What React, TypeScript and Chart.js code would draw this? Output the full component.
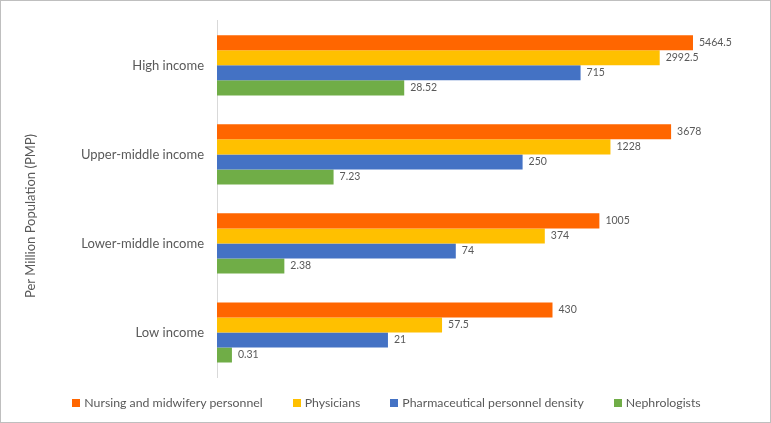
import React, { useEffect, useRef } from "react";
import { Chart, registerables, LinearScale } from "chart.js";

Chart.register(...registerables);

const categories = ["High income", "Upper-middle income", "Lower-middle income", "Low income"];
const seriesNames = [
  "Nursing and midwifery personnel",
  "Physicians",
  "Pharmaceutical personnel density",
  "Nephrologists",
];
const nursing = [5464.5, 3678, 1005, 430];
const physicians = [2992.5, 1228, 374, 57.5];
const pharmaceutical = [715, 250, 74, 21];
const nephrologists = [28.52, 7.23, 2.38, 0.31];
const colors = ["#FF6600", "#FFC000", "#4472C4", "#70AD47"];
const axisTitle = "Per Million Population (PMP)";

const f = (v: number) => Math.log10(1 + Math.max(0, v));

class Log1pScale extends LinearScale {
  static id = "log1p";
  static defaults = (LinearScale as any).defaults;
  getPixelForValue(value: number) {
    const a = f((this as any).min);
    const b = f((this as any).max);
    return this.getPixelForDecimal((f(value) - a) / (b - a));
  }
  getValueForPixel(pixel: number) {
    const a = f((this as any).min);
    const b = f((this as any).max);
    const d = this.getDecimalForPixel(pixel);
    return Math.pow(10, a + d * (b - a)) - 1;
  }
}
Chart.register(Log1pScale as any);

const TEXT = "#595959";
const FONT = "Lato, 'Open Sans', sans-serif";

const labelPlugin = {
  id: "valueLabels",
  afterDatasetsDraw(chart: any) {
    const ctx = chart.ctx;
    ctx.save();
    ctx.font = `10.5px ${FONT}`;
    ctx.fillStyle = TEXT;
    ctx.textAlign = "left";
    ctx.textBaseline = "middle";
    chart.data.datasets.forEach((ds: any, i: number) => {
      const meta = chart.getDatasetMeta(i);
      meta.data.forEach((el: any, j: number) => {
        ctx.fillText(String(ds.data[j]), el.x + 6, el.y);
      });
    });
    ctx.restore();
  },
};

const titlePlugin = {
  id: "sideTitle",
  afterDraw(chart: any) {
    const ctx = chart.ctx;
    ctx.save();
    ctx.translate(31, 216);
    ctx.rotate(-Math.PI / 2);
    ctx.font = `13px ${FONT}`;
    ctx.fillStyle = TEXT;
    ctx.textAlign = "center";
    ctx.textBaseline = "middle";
    ctx.fillText(axisTitle, 0, 0);
    ctx.restore();
  },
};

export default function App() {
  const ref = useRef<HTMLCanvasElement>(null);
  useEffect(() => {
    document.body.style.margin = "0";
    const series = [nursing, physicians, pharmaceutical, nephrologists];
    const chart = new Chart(ref.current!, {
      type: "bar",
      data: {
        labels: categories,
        datasets: series.map((d, i) => ({
          label: seriesNames[i],
          data: d,
          backgroundColor: colors[i],
          borderWidth: 0,
          categoryPercentage: 0.676,
          barPercentage: 1,
        })),
      },
      options: {
        indexAxis: "y",
        animation: false,
        responsive: false,
        maintainAspectRatio: false,
        layout: { padding: { left: 0, right: 20, top: 16, bottom: 46 } },
        scales: {
          x: {
            type: "log1p" as any,
            min: 0,
            max: 15600,
            display: false,
          },
          y: {
            grid: { display: false, drawTicks: false },
            border: { display: true, color: "#D9D9D9", width: 1 },
            ticks: { color: TEXT, font: { family: FONT, size: 13 }, padding: 13 },
            afterFit: (s: any) => {
              s.width = 217;
            },
          },
        },
        plugins: {
          legend: { display: false },
          tooltip: { enabled: false },
        },
      },
      plugins: [labelPlugin, titlePlugin],
    });
    return () => chart.destroy();
  }, []);
  return (
    <div style={{ position: "relative", width: 771, height: 423, background: "#fff" }}>
      <canvas ref={ref} width={771} height={423} style={{ display: "block" }} />
      <div
        style={{
          position: "absolute",
          left: 2,
          right: 0,
          top: 395,
          height: 16,
          display: "flex",
          justifyContent: "center",
          alignItems: "center",
          gap: 30,
          fontFamily: FONT,
          fontSize: 12.3,
          lineHeight: "16px",
          color: TEXT,
        }}
      >
        {seriesNames.map((name, i) => (
          <div key={name} style={{ display: "flex", alignItems: "center" }}>
            <span
              style={{ display: "inline-block", width: 8, height: 8, background: colors[i], marginRight: 4 }}
            />
            <span>{name}</span>
          </div>
        ))}
      </div>
      <div
        style={{
          position: "absolute",
          inset: 0,
          border: "1px solid #BFBFBF",
          pointerEvents: "none",
        }}
      />
    </div>
  );
}
